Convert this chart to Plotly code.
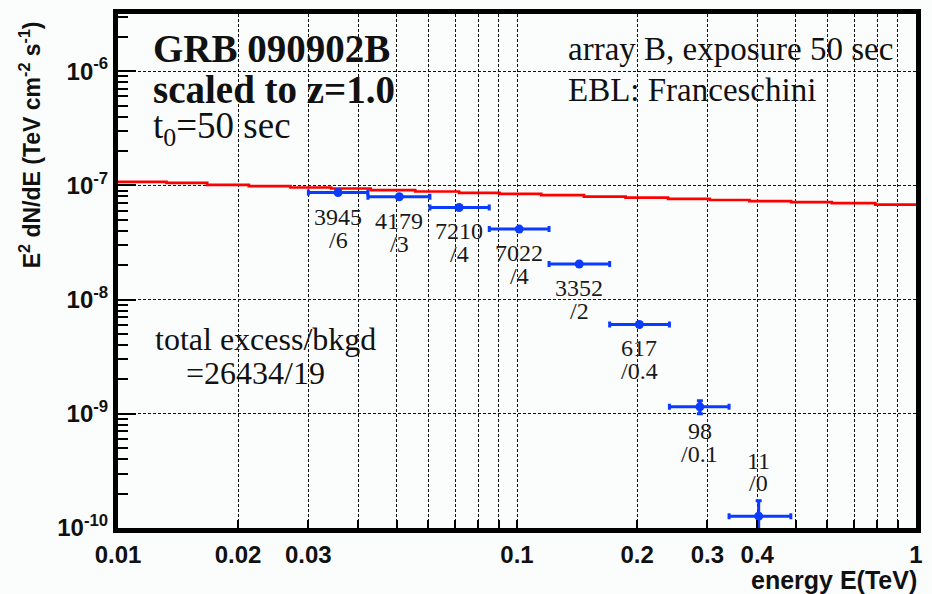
import math
import plotly.graph_objects as go

# ---- measured spectrum (array B, 50 s exposure) ----
bin_edges = [0.030, 0.0423, 0.0605, 0.0852, 0.1203, 0.1707, 0.241, 0.340, 0.4856]
energy = [0.0356, 0.0507, 0.0716, 0.1013, 0.1432, 0.2026, 0.2873, 0.4034]
flux = [8.65e-8, 7.94e-8, 6.40e-8, 4.14e-8, 2.05e-8, 6.05e-9, 1.15e-9, 1.27e-10]
flux_err = [1.4e-9, 1.3e-9, 0.8e-9, 0.5e-9, 0.35e-9, 0.25e-9, 0.15e-9, 0.46e-10]
excess = ["3945", "4179", "7210", "7022", "3352", "617", "98", "11"]
bkgd = ["/6", "/3", "/4", "/4", "/2", "/0.4", "/0.1", "/0"]

# ---- intrinsic spectrum after EBL absorption (Franceschini), binned ----
ebl_edges = [0.01, 0.01323, 0.01673, 0.02128, 0.02706, 0.0342, 0.0430, 0.0556,
             0.0716, 0.0905, 0.1150, 0.1472, 0.1871, 0.2392, 0.3042, 0.3824,
             0.4864, 0.6151, 0.7910, 1.0]
ebl_flux = [1.073e-7, 1.051e-7, 1.010e-7, 9.84e-8, 9.57e-8, 9.38e-8, 9.08e-8,
            8.83e-8, 8.60e-8, 8.43e-8, 8.21e-8, 7.98e-8, 7.82e-8, 7.62e-8,
            7.44e-8, 7.28e-8, 7.13e-8, 6.99e-8, 6.79e-8]

# ---- axis tick labels ----
x_grid_vals = [0.01, 0.02, 0.03, 0.04, 0.05, 0.06, 0.07, 0.08, 0.09,
               0.1, 0.2, 0.3, 0.4, 0.5, 0.6, 0.7, 0.8, 0.9, 1.0]
x_labels = {0.01: "0.01", 0.02: "0.02", 0.03: "0.03", 0.1: "0.1",
            0.2: "0.2", 0.3: "0.3", 0.4: "0.4", 1.0: "1"}
y_decades = [1e-10, 1e-9, 1e-8, 1e-7, 1e-6]
y_labels = ["10<sup>-10</sup>", "10<sup>-9</sup>", "10<sup>-8</sup>",
            "10<sup>-7</sup>", "10<sup>-6</sup>"]

BLUE = "#0a3cff"
SERIF = "Liberation Serif"
SANS = "Liberation Sans"

x_err_plus = [bin_edges[i + 1] - e for i, e in enumerate(energy)]
x_err_minus = [e - bin_edges[i] for i, e in enumerate(energy)]

fig = go.Figure()

fig.add_trace(go.Scatter(
    x=ebl_edges, y=ebl_flux + [ebl_flux[-1]],
    mode="lines", line=dict(color="#ff0000", width=2.7, shape="hv"),
    showlegend=False, hoverinfo="skip",
))

fig.add_trace(go.Scatter(
    x=energy, y=flux, mode="markers",
    marker=dict(color=BLUE, size=9, symbol="circle"),
    error_x=dict(type="data", symmetric=False, array=x_err_plus,
                 arrayminus=x_err_minus, color=BLUE, thickness=3, width=3),
    error_y=dict(type="data", array=flux_err, color=BLUE, thickness=3, width=3),
    showlegend=False,
))

# excess / background labels under each point (last one above);
# annotations on log axes take log10 coordinates
annotations = []
for i, (e, f) in enumerate(zip(energy, flux)):
    above = i == len(energy) - 1
    s1, s2 = (55, 33) if above else (-24, -47)
    for txt, sh in ((excess[i], s1), (bkgd[i], s2)):
        annotations.append(dict(
            x=math.log10(e), y=math.log10(f), xref="x", yref="y", text=txt,
            showarrow=False, xanchor="center", yanchor="middle", yshift=sh,
            font=dict(family=SERIF, size=24, color="#1a1a1a"),
        ))

L, R, T, B = 118, 923, 12, 528
W, H = 932, 594


def px(xp):
    return (xp - L) / (R - L)


def py(yp):
    return (B - yp) / (B - T)


def text_note(x, y, text, size, bold=False, anchor="left"):
    annotations.append(dict(
        x=px(x), y=py(y), xref="paper", yref="paper", text=text,
        showarrow=False, xanchor=anchor, yanchor="middle",
        font=dict(family=SERIF, size=size, color="#111111",
                  weight="bold" if bold else "normal"),
    ))


text_note(151, 47, "GRB 090902B", 39, bold=True)
text_note(151, 88, "scaled to z=1.0", 39, bold=True)
text_note(151, 127, "t<sub>0</sub>=50 sec", 37)
text_note(570, 47, "array B, exposure 50 sec", 33)
text_note(570, 88, "EBL: Franceschini", 33)
text_note(153, 338, "total excess/bkgd", 32)
text_note(185, 372, "=26434/19", 32)

annotations.append(dict(
    x=px(926), y=py(580), xref="paper", yref="paper",
    text="energy E(TeV)", showarrow=False, xanchor="right", yanchor="middle",
    font=dict(family=SANS, size=25, color="#111111", weight="bold"),
))
annotations.append(dict(
    x=px(30), y=py(143), xref="paper", yref="paper", textangle=-90,
    text="E<sup>2</sup> dN/dE (TeV cm<sup>-2</sup> s<sup>-1</sup>)",
    showarrow=False, xanchor="center", yanchor="middle",
    font=dict(family=SANS, size=23, color="#111111", weight="bold"),
))

y_minor = [m * d for d in [1e-10, 1e-9, 1e-8, 1e-7, 1e-6] for m in range(2, 10)]

fig.update_layout(
    width=W, height=H, autosize=False,
    margin=dict(l=L, r=W - R, t=T, b=H - B, pad=0),
    paper_bgcolor="#fbfdfd", plot_bgcolor="#fbfdfd",
    annotations=annotations,
    showlegend=False,
    xaxis=dict(
        type="log", range=[-2, 0],
        tickmode="array", tickvals=x_grid_vals,
        ticktext=[x_labels.get(v, "") for v in x_grid_vals],
        ticks="inside", ticklen=8, tickwidth=1.5, tickcolor="#000",
        showgrid=True, gridcolor="#111", gridwidth=1.3, griddash="3px,2px",
        showline=True, linewidth=5, linecolor="#000", mirror=True,
        tickfont=dict(family=SANS, size=24, color="#111", weight="bold"),
        ticklabelstandoff=1, zeroline=False,
    ),
    yaxis=dict(
        type="log", range=[-10, -5.5],
        tickmode="array", tickvals=y_decades, ticktext=y_labels,
        ticks="inside", ticklen=18, tickwidth=1.5, tickcolor="#000",
        showgrid=True, gridcolor="#111", gridwidth=1.3, griddash="3px,2px",
        showline=True, linewidth=5, linecolor="#000", mirror=True,
        tickfont=dict(family=SANS, size=24, color="#111", weight="bold"),
        minor=dict(tickmode="array", tickvals=y_minor, ticks="inside",
                   ticklen=10, tickwidth=1.5, tickcolor="#000", showgrid=False),
        zeroline=False,
    ),
)

fig.write_html("out.html")
